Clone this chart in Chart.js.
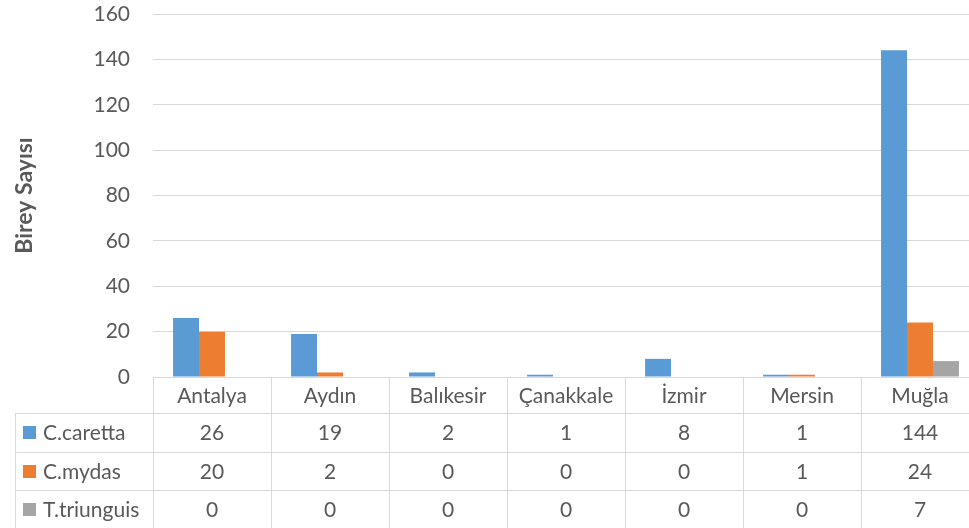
<!DOCTYPE html>
<html>
<head>
<meta charset="utf-8">
<script src="https://cdn.jsdelivr.net/npm/chart.js@4"></script>
<style>
  body { margin: 0; background: #fff; overflow: hidden; }
  #grafico { display: block; }
</style>
</head>
<body>
<canvas id="grafico" width="979" height="528"></canvas>
<script>
const iller = ["Antalya", "Aydın", "Balıkesir", "Çanakkale", "İzmir", "Mersin", "Muğla"];
const caretta = [26, 19, 2, 1, 8, 1, 144];
const mydas = [20, 2, 0, 0, 0, 1, 24];
const triunguis = [0, 0, 0, 0, 0, 0, 7];
const seriler = ["C.caretta", "C.mydas", "T.triunguis"];
const renkler = ["#5B9BD5", "#ED7D31", "#A5A5A5"];

const yazi = "Lato, 'Open Sans', sans-serif";
const griCizgi = "#D9D9D9";
const yaziRengi = "#595959";

// tabla de datos bajo el grafico, alineada con las categorias del eje x
const tablaDatos = {
    id: "tablaDatos",
    afterDraw(chart) {
        const ctx = chart.ctx;
        const x = chart.scales.x;
        const area = chart.chartArea;
        const ancho = (area.right - area.left) / iller.length;
        const altoCab = 36;
        const alto = 38.5;
        const top = area.bottom;
        const izq = 15;
        const valores = [caretta, mydas, triunguis];
        const filaY = r => top + altoCab + r * alto;
        const fin = filaY(3);

        ctx.save();
        ctx.strokeStyle = griCizgi;
        ctx.lineWidth = 1;

        // lineas horizontales
        for (let r = 0; r <= 3; r++) {
            let y = Math.round(filaY(r)) + 0.5;
            ctx.beginPath();
            ctx.moveTo(izq, y);
            ctx.lineTo(area.right, y);
            ctx.stroke();
        }
        // lineas verticales
        for (let i = 0; i <= iller.length; i++) {
            let xx = Math.round(area.left + i * ancho) + 0.5;
            ctx.beginPath();
            ctx.moveTo(xx, top);
            ctx.lineTo(xx, fin);
            ctx.stroke();
        }
        ctx.beginPath();
        ctx.moveTo(izq + 0.5, filaY(0));
        ctx.lineTo(izq + 0.5, fin);
        ctx.stroke();

        ctx.font = "21px " + yazi;
        ctx.fillStyle = yaziRengi;
        ctx.textBaseline = "middle";
        ctx.textAlign = "center";

        iller.forEach((il, i) => {
            let cx = x.getPixelForValue(i);
            ctx.fillText(il, cx, top + altoCab / 2 + 1);
            valores.forEach((serie, s) => {
                ctx.fillText(String(serie[i]), cx, filaY(s) + alto / 2 + 1);
            });
        });

        ctx.textAlign = "left";
        seriler.forEach((nombre, s) => {
            let cy = filaY(s) + alto / 2;
            ctx.fillStyle = renkler[s];
            ctx.fillRect(23, Math.round(cy - 6), 13, 13);
            ctx.fillStyle = yaziRengi;
            ctx.fillText(nombre, 43, cy + 1);
        });
        ctx.restore();
    }
};

new Chart(document.getElementById("grafico"), {
    type: "bar",
    data: {
        labels: iller,
        datasets: [
            { label: seriler[0], data: caretta, backgroundColor: renkler[0] },
            { label: seriler[1], data: mydas, backgroundColor: renkler[1] },
            { label: seriler[2], data: triunguis, backgroundColor: renkler[2] }
        ]
    },
    options: {
        responsive: false,
        animation: false,
        layout: { padding: { top: 14, right: 0, bottom: 151, left: 0 } },
        datasets: { bar: { categoryPercentage: 0.66, barPercentage: 1 } },
        plugins: {
            legend: { display: false },
            tooltip: { enabled: false }
        },
        scales: {
            x: {
                ticks: { display: false },
                grid: { display: false },
                border: { display: false },
                afterFit: s => { s.height = 0; }
            },
            y: {
                min: 0,
                max: 160,
                ticks: {
                    stepSize: 20,
                    padding: 23,
                    color: yaziRengi,
                    font: { family: yazi, size: 21 }
                },
                grid: { color: griCizgi, drawTicks: false },
                border: { display: false },
                title: {
                    display: true,
                    text: "Birey Sayısı",
                    color: yaziRengi,
                    font: { family: yazi, size: 23, weight: "bold" },
                    padding: { top: 11 }
                },
                afterFit: s => {
                    s.width = 153;
                    s.paddingTop = 0;
                    s.paddingBottom = 0;
                }
            }
        }
    },
    plugins: [tablaDatos]
});
</script>
</body>
</html>
